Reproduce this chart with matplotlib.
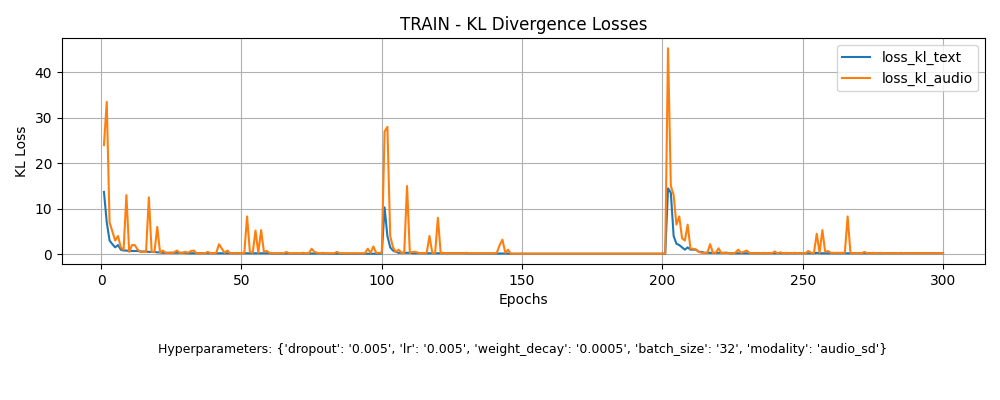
import matplotlib
matplotlib.use("Agg")
import matplotlib.pyplot as plt

epochs = list(range(1, 301))

loss_kl_audio = [
    24, 33.5, 7, 5, 3, 4, 1.5, 1, 13, 0.5,
    2, 2, 1, 0.5, 0.5, 0.5, 12.5, 0.5, 0.5, 6,
    0.3, 0.8, 0.3, 0.3, 0.3, 0.4, 0.8, 0.3, 0.3, 0.5,
    0.3, 0.7, 0.8, 0.2, 0.2, 0.2, 0.2, 0.5, 0.2, 0.2,
    0.3, 2.2, 1.2, 0.3, 0.8, 0.2, 0.2, 0.2, 0.2, 0.2,
    0.2, 8.3, 0.5, 0.3, 5.2, 0.3, 5.3, 0.5, 0.7, 0.3,
    0.2, 0.2, 0.2, 0.2, 0.2, 0.5, 0.2, 0.2, 0.2, 0.2,
    0.2, 0.3, 0.2, 0.2, 1.2, 0.5, 0.3, 0.2, 0.3, 0.2,
    0.2, 0.2, 0.2, 0.5, 0.2, 0.2, 0.2, 0.2, 0.2, 0.2,
    0.2, 0.2, 0.2, 0.2, 1.2, 0.3, 1.7, 0.3, 0.3, 0.3,
    27, 28, 4, 1.5, 0.5, 1, 0.3, 0.3, 15, 0.3,
    0.5, 0.5, 0.3, 0.2, 0.2, 0.3, 4, 0.3, 0.2, 8,
    0.2, 0.3, 0.2, 0.2, 0.2, 0.2, 0.2, 0.2, 0.2, 0.3,
    0.2, 0.2, 0.2, 0.2, 0.2, 0.2, 0.2, 0.2, 0.2, 0.2,
    0.3, 2, 3.2, 0.3, 1, 0.1, 0.1, 0.1, 0.1, 0.1,
    0.1, 0.1, 0.1, 0.1, 0.1, 0.1, 0.1, 0.1, 0.1, 0.1,
    0.1, 0.1, 0.1, 0.1, 0.1, 0.1, 0.1, 0.1, 0.1, 0.1,
    0.1, 0.1, 0.1, 0.1, 0.1, 0.1, 0.1, 0.1, 0.1, 0.1,
    0.1, 0.1, 0.1, 0.1, 0.1, 0.1, 0.1, 0.1, 0.1, 0.1,
    0.1, 0.1, 0.1, 0.1, 0.1, 0.1, 0.1, 0.1, 0.1, 0.1,
    0.2, 45.3, 15, 13, 6.5, 8.3, 3.5, 3, 6.5, 1.2,
    1.2, 1, 0.5, 0.3, 0.3, 0.3, 2.2, 0.3, 0.3, 1.3,
    0.2, 0.3, 0.3, 0.2, 0.2, 0.3, 1, 0.3, 0.5, 0.8,
    0.3, 0.2, 0.2, 0.2, 0.2, 0.3, 0.2, 0.2, 0.2, 0.6,
    0.2, 0.4, 0.2, 0.3, 0.2, 0.2, 0.3, 0.2, 0.2, 0.2,
    0.2, 0.7, 0.3, 0.3, 4.5, 0.3, 5.3, 0.5, 0.7, 0.3,
    0.3, 0.3, 0.3, 0.3, 0.3, 8.3, 0.3, 0.2, 0.2, 0.2,
    0.2, 0.5, 0.2, 0.2, 0.3, 0.2, 0.2, 0.3, 0.2, 0.2,
    0.2, 0.2, 0.2, 0.2, 0.3, 0.2, 0.2, 0.2, 0.2, 0.2,
    0.2, 0.2, 0.2, 0.2, 0.2, 0.2, 0.2, 0.2, 0.2, 0.2,
]

loss_kl_text = [
    13.7, 7, 3, 2.2, 1.5, 2, 1, 0.8, 0.8, 0.7,
    0.7, 0.7, 0.7, 0.6, 0.6, 0.6, 0.5, 0.5, 0.5, 0.4,
    0.4, 0.3, 0.3, 0.3, 0.3, 0.3, 0.3, 0.3, 0.3, 0.3,
    0.2, 0.2, 0.2, 0.2, 0.2, 0.2, 0.2, 0.2, 0.2, 0.2,
    0.2, 0.2, 0.2, 0.2, 0.2, 0.2, 0.2, 0.2, 0.2, 0.2,
    0.2, 0.2, 0.2, 0.2, 0.2, 0.2, 0.2, 0.2, 0.2, 0.2,
    0.15, 0.15, 0.15, 0.15, 0.15, 0.15, 0.15, 0.15, 0.15, 0.15,
    0.15, 0.15, 0.15, 0.15, 0.15, 0.15, 0.15, 0.15, 0.15, 0.15,
    0.1, 0.1, 0.1, 0.1, 0.1, 0.1, 0.1, 0.1, 0.1, 0.1,
    0.1, 0.1, 0.1, 0.1, 0.1, 0.1, 0.1, 0.1, 0.1, 0.1,
    10.3, 4, 1.5, 0.8, 0.5, 0.3, 0.3, 0.3, 0.3, 0.3,
    0.2, 0.2, 0.2, 0.2, 0.2, 0.2, 0.2, 0.2, 0.2, 0.2,
    0.2, 0.2, 0.2, 0.2, 0.2, 0.2, 0.2, 0.2, 0.2, 0.2,
    0.15, 0.15, 0.15, 0.15, 0.15, 0.15, 0.15, 0.15, 0.15, 0.15,
    0.15, 0.15, 0.15, 0.15, 0.15, 0.1, 0.1, 0.1, 0.1, 0.1,
    0.1, 0.1, 0.1, 0.1, 0.1, 0.1, 0.1, 0.1, 0.1, 0.1,
    0.1, 0.1, 0.1, 0.1, 0.1, 0.1, 0.1, 0.1, 0.1, 0.1,
    0.1, 0.1, 0.1, 0.1, 0.1, 0.1, 0.1, 0.1, 0.1, 0.1,
    0.1, 0.1, 0.1, 0.1, 0.1, 0.1, 0.1, 0.1, 0.1, 0.1,
    0.1, 0.1, 0.1, 0.1, 0.1, 0.1, 0.1, 0.1, 0.1, 0.1,
    0.1, 14.5, 13.5, 4, 2.3, 2, 1.5, 1, 1.5, 1,
    1, 1, 0.5, 0.5, 0.3, 0.3, 0.3, 0.3, 0.3, 0.3,
    0.3, 0.3, 0.3, 0.2, 0.2, 0.2, 0.2, 0.2, 0.2, 0.2,
    0.2, 0.2, 0.2, 0.2, 0.2, 0.2, 0.2, 0.2, 0.2, 0.2,
    0.2, 0.2, 0.2, 0.2, 0.2, 0.2, 0.2, 0.2, 0.2, 0.2,
    0.2, 0.2, 0.2, 0.2, 0.3, 0.2, 0.2, 0.2, 0.2, 0.2,
    0.2, 0.2, 0.2, 0.2, 0.2, 0.2, 0.2, 0.2, 0.2, 0.2,
    0.2, 0.2, 0.2, 0.2, 0.2, 0.2, 0.2, 0.2, 0.2, 0.2,
    0.2, 0.2, 0.2, 0.2, 0.2, 0.2, 0.2, 0.2, 0.2, 0.2,
    0.2, 0.2, 0.2, 0.2, 0.2, 0.2, 0.2, 0.2, 0.2, 0.2,
]

hyper = "Hyperparameters: {'dropout': '0.005', 'lr': '0.005', 'weight_decay': '0.0005', 'batch_size': '32', 'modality': 'audio_sd'}"

fig = plt.figure(figsize=(10, 4), dpi=100)
ax = fig.add_axes([0.062, 0.34, 0.923, 0.565])
ax.plot(epochs, loss_kl_text, label="loss_kl_text")
ax.plot(epochs, loss_kl_audio, label="loss_kl_audio")
ax.set_title("TRAIN - KL Divergence Losses")
ax.set_xlabel("Epochs")
ax.set_ylabel("KL Loss")
ax.grid(True)
ax.legend(loc="upper right")
fig.text(0.523, 0.125, hyper, ha="center", va="center", fontsize=9)
fig.savefig("out.png")
